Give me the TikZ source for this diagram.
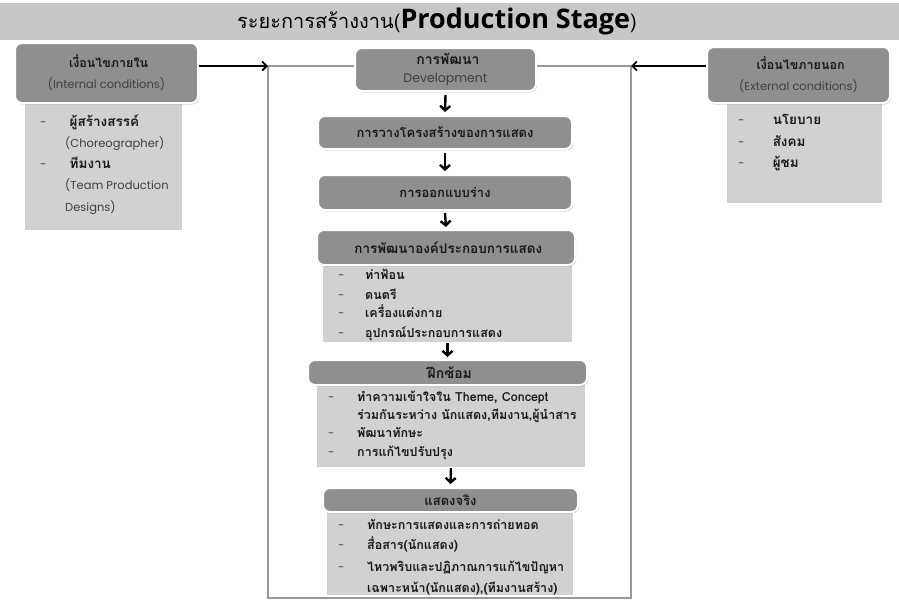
\documentclass[tikz,border=0pt]{standalone}
\usepackage{fontspec}
\usetikzlibrary{arrows.meta,shadows}
\newfontfamily\thaifont[Script=Thai]{Loma}
\newfontfamily\enfont{Poppins}
\newfontfamily\titlefont{Open Sans}
\definecolor{bandgray}{gray}{0.78}
\definecolor{hdrgray}{gray}{0.56}
\definecolor{listgray}{gray}{0.82}
\definecolor{framegray}{gray}{0.6}
\definecolor{engray}{gray}{0.25}
% item text, header text, english text (size given as argument)
\newcommand{\thb}[1][12.5]{\thaifont\bfseries\fontsize{#1}{15}\selectfont}
\newcommand{\thh}[1][13]{\thaifont\bfseries\fontsize{#1}{15}\selectfont}
\newcommand{\enr}[1][11.5]{\enfont\fontsize{#1}{15}\selectfont\color{engray}}
\begin{document}
\begin{tikzpicture}[x=1pt,y=-1pt,
  hdrbox/.style={fill=hdrgray, draw=white, line width=2pt, rounded corners=7pt,
    drop shadow={opacity=0.35, shadow xshift=1.2pt, shadow yshift=-1.5pt},
    inner sep=0pt, align=center, text=black!90},
  listbox/.style={fill=listgray, inner sep=0pt},
  itemtext/.style={anchor=base west, inner sep=0pt, text=black!90},
  chainarrow/.style={-{Straight Barb[length=4.5pt,width=10pt]}, line width=2.4pt},
  sidearrow/.style={-{Straight Barb[length=4.5pt,width=9pt]}, line width=1.8pt},
]
\useasboundingbox (0,0) rectangle (899,603);

% title band
\fill[bandgray] (0,3) rectangle (899,40);
\node[inner sep=0pt] (title) at (437,21)
  {\thaifont\fontsize{20}{20}\selectfont ระยะการสร้างงาน(\titlefont\bfseries\fontsize{27}{27}\selectfont Production Stage\thaifont\mdseries\fontsize{20}{20}\selectfont )};

% outer frame of the production process
\coordinate (fL) at (268,66);
\coordinate (fR) at (631,598);
\draw[framegray, line width=2.5pt] (fL) rectangle (fR);
\coordinate (fRtop) at (631,66);

% internal conditions
\node[listbox, minimum width=157pt, minimum height=127pt] (inlist) at (103.5,166.5) {};
\node[hdrbox, minimum width=183pt, minimum height=60pt] (inner) at (106.5,73)
  {\thh[12.5] เงื่อนไขภายใน\\[9pt]\enr (Internal conditions)};

% external conditions
\node[listbox, minimum width=155pt, minimum height=100pt] (exlist) at (804.5,153) {};
\node[hdrbox, minimum width=183pt, minimum height=56pt] (outer) at (798.5,75)
  {\thh[12.5] เงื่อนไขภายนอก\\[9pt]\enr (External conditions)};

% side arrows into the frame
\draw[sidearrow] (inner.east |- fL) -- (fL);
\draw[sidearrow] (outer.west |- fRtop) -- (fRtop);

% main chain
\node[hdrbox, minimum width=181pt, minimum height=43pt] (dev) at (445.5,69.5)
  {\thh[14] การพัฒนา\\[6pt]\enr[12.5] Development};
\node[hdrbox, minimum width=254pt, minimum height=33pt] (s2) at (445,132.5)
  {\thh การวางโครงสร้างของการแสดง};
\node[hdrbox, minimum width=254pt, minimum height=35pt] (s3) at (445,192.5)
  {\thh การออกแบบร่าง};

\node[listbox, minimum width=249pt, minimum height=77pt] (l4) at (447.5,303.5) {};
\node[hdrbox, minimum width=258pt, minimum height=35pt] (s4) at (446,247.5)
  {\thh[13.5] การพัฒนาองค์ประกอบการแสดง};

\node[listbox, minimum width=268pt, minimum height=82pt] (l5) at (451,426) {};
\node[hdrbox, minimum width=279pt, minimum height=25pt] (s5) at (447.5,372.5)
  {\thh[14] ฝึกซ้อม};

\node[listbox, minimum width=246pt, minimum height=83pt] (l6) at (450,553.5) {};
\node[hdrbox, minimum width=255pt, minimum height=24pt] (s6) at (450.5,500)
  {\thh แสดงจริง};

\draw[chainarrow] ([yshift=-3pt]dev.south) -- ([yshift=3pt]s2.north);
\draw[chainarrow] ([yshift=-3pt]s2.south) -- ([yshift=3pt]s3.north);
\draw[chainarrow] ([yshift=-2pt]s3.south) -- ([yshift=2pt]s4.north);
\draw[chainarrow] ([yshift=-1pt]l4.south) -- ([yshift=2pt]s5.north);
\draw[chainarrow] ([yshift=-1pt]l5.south) -- ([yshift=3pt]s6.north);

% list entries: dashes and texts
\foreach \y/\n in {122/a,164/b}
  \node[itemtext] (ind\n) at (40,\y+4) {\enr -};
\node[itemtext] (in1) at (65,126) {\thb[13.5] ผู้สร้างสรรค์};
\node[itemtext] (in2) at (65,147) {\enr (Choreographer)};
\node[itemtext] (in3) at (65,168) {\thb[13.5] ทีมงาน};
\node[itemtext] (in4) at (65,189) {\enr (Team Production};
\node[itemtext] (in5) at (65,211) {\enr Designs)};

\foreach \y/\n in {120/a,142/b,163/c}
  \node[itemtext] (exd\n) at (738,\y+4) {\enr -};
\node[itemtext] (ex1) at (768,124) {\thb[13.5] นโยบาย};
\node[itemtext] (ex2) at (768,146) {\thb[13.5] สังคม};
\node[itemtext] (ex3) at (768,167) {\thb[13.5] ผู้ชม};

\foreach \y/\n in {275/a,295/b,313/c,333/d}
  \node[itemtext] (d4\n) at (338,\y+4) {\enr -};
\node[itemtext] (t41) at (365,279) {\thb ท่าฟ้อน};
\node[itemtext] (t42) at (365,299) {\thb ดนตรี};
\node[itemtext] (t43) at (365,317) {\thb เครื่องแต่งกาย};
\node[itemtext] (t44) at (365,337) {\thb อุปกรณ์ประกอบการแสดง};

\foreach \y/\n in {397/a,433/b,452/c}
  \node[itemtext] (d5\n) at (328,\y+4) {\enr -};
\node[itemtext] (t51) at (357,401) {\thb ทำความเข้าใจใน Theme, Concept};
\node[itemtext] (t52) at (357,419) {\thb ร่วมกันระหว่าง นักแสดง,ทีมงาน,ผู้นำสาร};
\node[itemtext] (t53) at (357,437) {\thb พัฒนาทักษะ};
\node[itemtext] (t54) at (357,456) {\thb การแก้ไขปรับปรุง};

\foreach \y/\n in {525/a,545/b,567/c}
  \node[itemtext] (d6\n) at (338,\y+4) {\enr -};
\node[itemtext] (t61) at (367,529) {\thb ทักษะการแสดงและการถ่ายทอด};
\node[itemtext] (t62) at (367,549) {\thb สื่อสาร(นักแสดง)};
\node[itemtext] (t63) at (367,571) {\thb ไหวพริบและปฏิภาณการแก้ไขปัญหา};
\node[itemtext] (t64) at (367,592) {\thb เฉพาะหน้า(นักแสดง),(ทีมงานสร้าง)};
\end{tikzpicture}
\end{document}
